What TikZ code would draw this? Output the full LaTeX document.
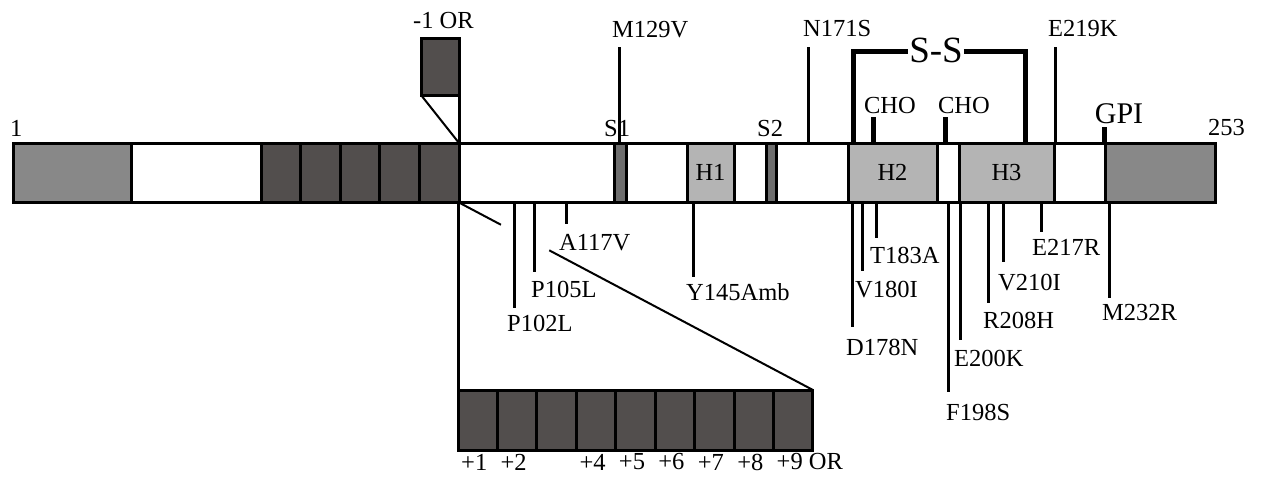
\documentclass[tikz,border=0pt]{standalone}
\usepackage{fontspec}
\setmainfont{Liberation Serif}
\usetikzlibrary{positioning,calc}

\definecolor{sigcol}{HTML}{888888}
\definecolor{repcol}{HTML}{524E4D}
\definecolor{strandcol}{HTML}{6E6E6E}
\definecolor{helixcol}{HTML}{B4B4B4}

\begin{document}
\begin{tikzpicture}[
    x=1pt, y=-1pt,
    seg/.style={draw, line width=3pt, minimum height=59pt, inner sep=0pt,
                outer sep=0pt, font=\fontsize{24.5}{26}\selectfont},
    cell/.style={draw, line width=3pt, fill=repcol, minimum width=39.44pt,
                 minimum height=60pt, inner sep=0pt, outer sep=0pt},
    lbl/.style={font=\fontsize{24.5}{26}\selectfont, inner sep=0pt, anchor=west},
    mut/.style={line width=3pt},
    thk/.style={line width=5pt},
    thn/.style={line width=2pt}
]
\useasboundingbox (0,0) rectangle (1264,482);

% protein bar
\node[seg, fill=white, minimum width=1202pt] (bar) at (614,172.5) {};
\node[seg, fill=sigcol, minimum width=118pt] (sig) at (72,172.5) {};
\foreach \i in {1,...,5}
  \node[seg, fill=repcol, minimum width=39.6pt] (r\i) at (241.2+39.6*\i,172.5) {};
\node[seg, fill=strandcol, minimum width=12pt] (s1) at (620,172.5) {};
\node[seg, fill=helixcol, minimum width=47pt] (h1) at (710.5,172.5) {H1};
\node[seg, fill=strandcol, minimum width=10pt] (s2) at (771,172.5) {};
\node[seg, fill=helixcol, minimum width=89pt] (h2) at (892.5,172.5) {H2};
\node[seg, fill=helixcol, minimum width=95pt] (h3) at (1006.5,172.5) {H3};
\node[seg, fill=sigcol, minimum width=110pt] (gpi) at (1160,172.5) {};

\node[lbl] (n1) at (10,128) {1};
\node[lbl] (n253) at (1208,128) {253};
\node[lbl] (ls1) at (604,129) {S1};
\node[lbl] (ls2) at (757,129) {S2};

% -1 OR
\node[draw, line width=3pt, fill=repcol, minimum width=38pt, minimum height=57pt,
      inner sep=0pt, outer sep=0pt] (m1) at (440,66.5) {};
\node[lbl] (lm1) at (413,21) {-1 OR};
\draw[mut] (m1.south east) -- (m1.south east |- bar.north);
\draw[thn] (m1.south west) -- (m1.south east |- bar.north);

% +1 ... +9 OR
\foreach \i in {1,...,9}
  \node[cell] (c\i) at (438.28+39.44*\i,420) {};
\coordinate (zl) at (c1.north west |- bar.south);
\draw[mut] (zl) -- (c1.north west);
\draw[thn] (zl) -- ($(zl)!0.121!(c9.north east)$);
\draw[thn] ($(zl)!0.257!(c9.north east)$) -- (c9.north east);
\node[lbl] at ([xshift=3pt,yshift=-12pt]c1.south west) {+1};
\node[lbl] at ([xshift=3pt,yshift=-12pt]c2.south west) {+2};
\node[lbl] at ([xshift=3pt,yshift=-12pt]c4.south west) {+4};
\node[lbl] at ([xshift=3pt,yshift=-12pt]c5.south west) {+5};
\node[lbl] at ([xshift=3pt,yshift=-12pt]c6.south west) {+6};
\node[lbl] at ([xshift=3pt,yshift=-12pt]c7.south west) {+7};
\node[lbl] at ([xshift=3pt,yshift=-12pt]c8.south west) {+8};
\node[lbl] at ([xshift=3pt,yshift=-12pt]c9.south west) {+9 OR};

% mutations above
\coordinate (t129) at (619,47);
\coordinate (t171) at (808,47);
\coordinate (t219) at (1055,47);
\draw[mut] (t129 |- bar.north) -- (t129);
\draw[mut] (t171 |- bar.north) -- (t171);
\draw[mut] (t219 |- bar.north) -- (t219);
\node[lbl] (M129V) at (612,30) {M129V};
\node[lbl] (N171S) at (803,29) {N171S};
\node[lbl] (E219K) at (1048,29) {E219K};

% S-S bridge, CHO, GPI
\node[font=\fontsize{37}{39}\selectfont, inner sep=1pt] (ss) at (936,50) {S-S};
\coordinate (ssl) at (853,51);
\coordinate (ssr) at (1025,51);
\draw[thk] (ssl |- bar.north) -- (ssl) -- (ss.west |- ssl);
\draw[thk] (ss.east |- ssr) -- (ssr) -- (ssr |- bar.north);
\coordinate (cho1) at (873,117);
\coordinate (cho2) at (945,117);
\coordinate (gpa) at (1104,127);
\draw[thk] (cho1 |- bar.north) -- (cho1);
\draw[thk] (cho2 |- bar.north) -- (cho2);
\draw[thk] (gpa |- bar.north) -- (gpa);
\node[lbl, anchor=center] (lcho1) at (890,106) {CHO};
\node[lbl, anchor=center] (lcho2) at (964,106) {CHO};
\node[lbl, anchor=center, font=\fontsize{30}{32}\selectfont] (lgpi) at (1119,114) {GPI};

% mutations below
\coordinate (e102) at (514,308);
\coordinate (e105) at (534,272);
\coordinate (e117) at (566,224);
\coordinate (e145) at (693,277);
\coordinate (e178) at (852,327);
\coordinate (e180) at (862,271);
\coordinate (e183) at (876,238);
\coordinate (e198) at (948,392);
\coordinate (e200) at (960,340);
\coordinate (e208) at (988,303);
\coordinate (e210) at (1003,262);
\coordinate (e217) at (1041,232);
\coordinate (e232) at (1109,298);
\draw[mut] (e102 |- bar.south) -- (e102);
\draw[mut] (e105 |- bar.south) -- (e105);
\draw[mut] (e117 |- bar.south) -- (e117);
\draw[mut] (e145 |- bar.south) -- (e145);
\draw[mut] (e178 |- bar.south) -- (e178);
\draw[mut] (e180 |- bar.south) -- (e180);
\draw[mut] (e183 |- bar.south) -- (e183);
\draw[mut] (e198 |- bar.south) -- (e198);
\draw[mut] (e200 |- bar.south) -- (e200);
\draw[mut] (e208 |- bar.south) -- (e208);
\draw[mut] (e210 |- bar.south) -- (e210);
\draw[mut] (e217 |- bar.south) -- (e217);
\draw[mut] (e232 |- bar.south) -- (e232);
\node[lbl] (P102L) at (507,323) {P102L};
\node[lbl] (P105L) at (531,289) {P105L};
\node[lbl] (A117V) at (559,243) {A117V};
\node[lbl] (Y145Amb) at (686,292) {Y145Amb};
\node[lbl] (D178N) at (846,347) {D178N};
\node[lbl] (V180I) at (855,290) {V180I};
\node[lbl] (T183A) at (870,255) {T183A};
\node[lbl] (F198S) at (946,412) {F198S};
\node[lbl] (E200K) at (954,358) {E200K};
\node[lbl] (R208H) at (983,320) {R208H};
\node[lbl] (V210I) at (998,283) {V210I};
\node[lbl] (E217R) at (1032,247) {E217R};
\node[lbl] (M232R) at (1102,313) {M232R};

\end{tikzpicture}
\end{document}
